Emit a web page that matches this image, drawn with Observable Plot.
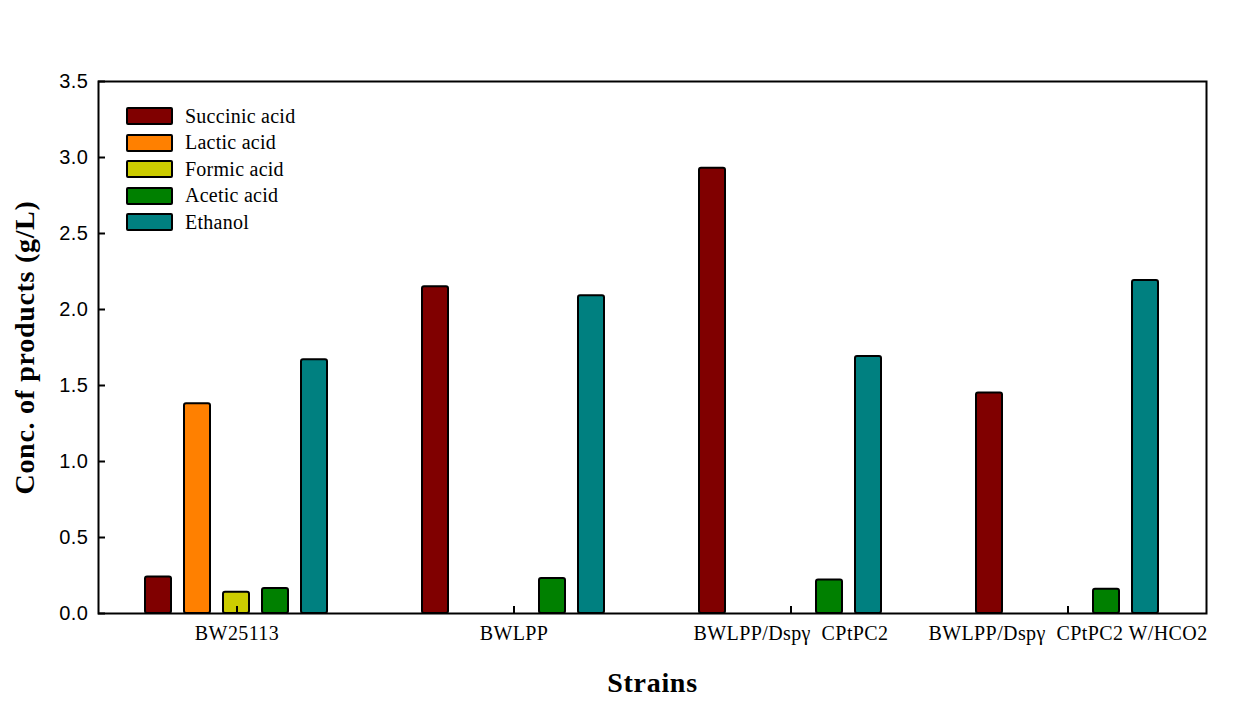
<!DOCTYPE html>
<html><head><meta charset="utf-8">
<script src="https://cdn.jsdelivr.net/npm/d3@7"></script>
<script src="https://cdn.jsdelivr.net/npm/@observablehq/plot@0.6"></script>
<style>
body{margin:0;background:#fff;}
#wrap{position:relative;width:1250px;height:705px;}
#legend{position:absolute;left:126px;top:103px;font:20px "Liberation Serif","Times New Roman",serif;color:#000;letter-spacing:0.25px;}
.row{display:flex;align-items:center;height:26.5px;}
.sw{width:43px;height:14px;border:2px solid #000;border-radius:2px;margin-right:12px;box-sizing:content-box;}
g[aria-label="y-axis label"] text, g[aria-label="fx-axis label"] text{font:bold 28px "Liberation Serif","Times New Roman",serif;letter-spacing:0.7px;}
g[aria-label="fx-axis tick label"] text{white-space:pre;letter-spacing:0.4px;}
g[aria-label="y-axis tick label"] text{letter-spacing:0.5px;}
</style></head><body><div id="wrap"><div id="legend"></div></div>
<script>
const strains = ["BW25113", "BWLPP", "BWLPP/Dspγ  CPtPC2", "BWLPP/Dspγ  CPtPC2 W/HCO2"];
const products = ["Succinic acid", "Lactic acid", "Formic acid", "Acetic acid", "Ethanol"];
const colors = ["#800000", "#ff8000", "#cccc00", "#008000", "#008080"];
const succinic = [0.24, 2.15, 2.93, 1.45];
const lactic = [1.38, 0, 0, 0];
const formic = [0.14, 0, 0, 0];
const acetic = [0.165, 0.23, 0.22, 0.16];
const ethanol = [1.67, 2.09, 1.69, 2.19];
const yTicks = [0, 0.5, 1.0, 1.5, 2.0, 2.5, 3.0, 3.5];

const series = [succinic, lactic, formic, acetic, ethanol];
const data = [];
series.forEach((s, j) => s.forEach((v, i) => {
  if (v > 0) data.push({strain: strains[i], product: products[j], value: v});
}));

const chart = Plot.plot({
  width: 1250, height: 705,
  marginLeft: 97, marginRight: 44, marginTop: 81, marginBottom: 92,
  style: {fontFamily: '"Liberation Sans", Arial, sans-serif', fontSize: "20px", color: "#000", background: "#fff", overflow: "visible"},
  fx: {domain: strains, padding: 0, label: "Strains"},
  x: {domain: products, paddingInner: 0.33, paddingOuter: 1.2, axis: null},
  y: {domain: [0, 3.5], label: "Conc. of products (g/L)"},
  color: {domain: products, range: colors},
  marks: [
    Plot.barY(data, {fx: "strain", x: "product", y: "value", fill: "product", stroke: "#000", strokeWidth: 2, rx: 2}),
    Plot.axisY({ticks: yTicks, tickSize: -7, tickPadding: 17, strokeWidth: 2, tickFormat: d3.format(".1f"),
      label: "Conc. of products (g/L)", labelAnchor: "center", labelOffset: 84, labelArrow: "none"}),
    Plot.axisFx({anchor: "bottom", tickSize: -7, tickPadding: 19, strokeWidth: 2,
      fontFamily: '"Liberation Serif", "Times New Roman", serif', fontSize: 20,
      label: "Strains", labelAnchor: "center", labelOffset: 78, labelArrow: "none"}),
    Plot.frame({facet: "super", stroke: "#000", strokeWidth: 2})
  ]
});
document.getElementById("wrap").prepend(chart);

const legend = document.getElementById("legend");
products.forEach((p, j) => {
  const row = document.createElement("div");
  row.className = "row";
  const sw = document.createElement("div");
  sw.className = "sw";
  sw.style.background = colors[j];
  const t = document.createElement("span");
  t.textContent = p;
  row.append(sw, t);
  legend.append(row);
});
</script>
</body></html>
